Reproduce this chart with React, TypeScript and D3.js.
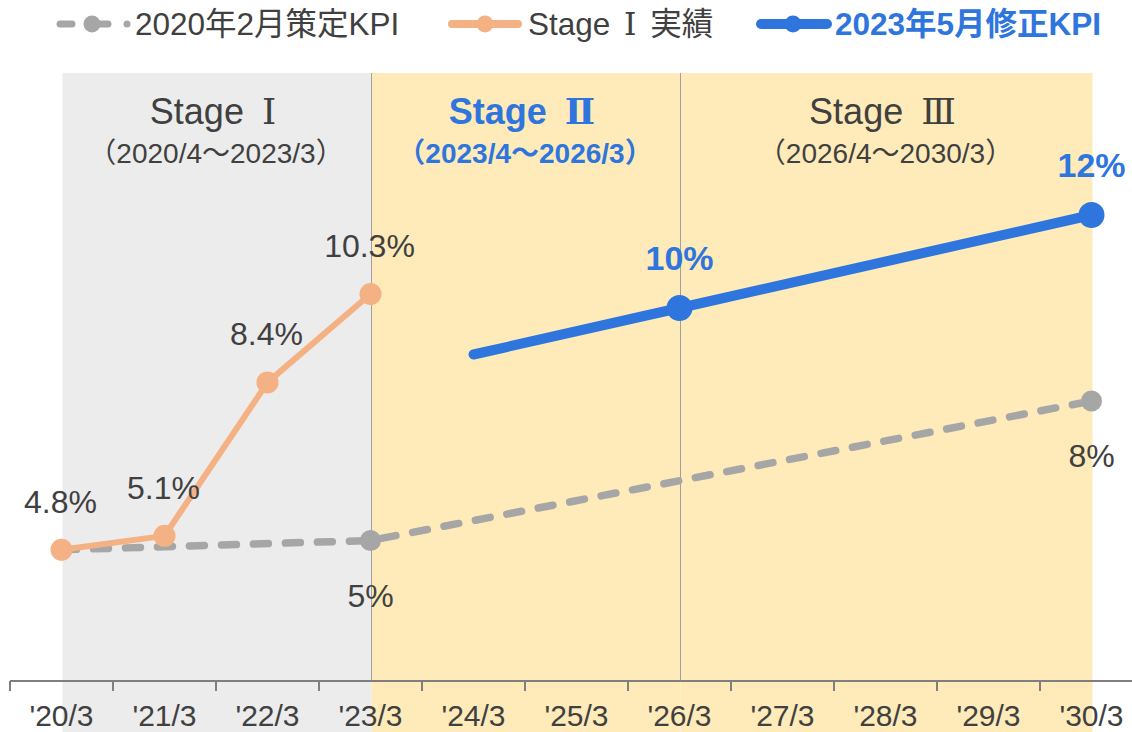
import React from "react";
import * as d3 from "d3";

const categories = ["'20/3", "'21/3", "'22/3", "'23/3", "'24/3", "'25/3", "'26/3", "'27/3", "'28/3", "'29/3", "'30/3"];
const kpi2020 = [4.8, null, null, 5, null, null, null, null, null, null, 8];
const kpi2020Labels = ["", "", "", "5%", "", "", "", "", "", "", "8%"];
const stage1Actual = [4.8, 5.1, 8.4, 10.3, null, null, null, null, null, null, null];
const stage1Labels = ["4.8%", "5.1%", "8.4%", "10.3%", "", "", "", "", "", "", ""];
const kpi2023 = [null, null, null, null, 9.0, null, 10, null, null, null, 12];
const kpi2023Labels = ["", "", "", "", "", "", "10%", "", "", "", "12%"];
const legendNames = ["2020年2月策定KPI", "Stage Ⅰ 実績", "2023年5月修正KPI"];
const stages = [
  { title: "Stage Ⅰ", period: "（2020/4～2023/3）", from: "'20/3", to: "'23/3", highlight: false, fill: "#ececec" },
  { title: "Stage Ⅱ", period: "（2023/4～2026/3）", from: "'23/3", to: "'26/3", highlight: true, fill: "#feebb9" },
  { title: "Stage Ⅲ", period: "（2026/4～2030/3）", from: "'26/3", to: "'30/3", highlight: false, fill: "#feebb9" },
];

const W = 1132;
const H = 732;
const FONT = "'Liberation Sans', Arial, 'Noto Sans CJK JP', sans-serif";
const ROMAN = "'DejaVu Serif', 'Noto Sans CJK JP', serif";
const TEXT = "#404040";
const GRAY = "#a6a6a6";
const ORANGE = "#f4b183";
const BLUE = "#2e75de";

type Pt = { i: number; v: number; label: string };

function pts(vals: (number | null)[], labels: string[]): Pt[] {
  const out: Pt[] = [];
  vals.forEach((v, i) => {
    if (v !== null) out.push({ i, v, label: labels[i] });
  });
  return out;
}

// render roman numerals with a serif face, like the reference
function rich(s: string, gap: number) {
  const parts = s.split(/([ⅠⅡⅢ])/);
  return parts.map((p, k) =>
    /[ⅠⅡⅢ]/.test(p) ? (
      <tspan key={k} fontFamily={ROMAN} dx={gap}>
        {p}
      </tspan>
    ) : (
      <tspan key={k} dx={k > 0 ? gap : 0}>{p}</tspan>
    )
  );
}

export default function App() {
  const band = d3.scaleBand<string>().domain(categories).range([10, 10 + 103 * categories.length]).padding(0);
  const cx = (c: string) => (band(c) as number) + band.bandwidth() / 2;
  const y = d3.scaleLinear().domain([2, 15]).range([680, 75.5]);
  const axisY = 681;
  const top = 73;

  const line = d3
    .line<Pt>()
    .x((d) => cx(categories[d.i]))
    .y((d) => y(d.v));

  const gPts = pts(kpi2020, kpi2020Labels);
  const oPts = pts(stage1Actual, stage1Labels);
  const bPts = pts(kpi2023, kpi2023Labels);

  return (
    <svg width={W} height={H} style={{ position: "absolute", left: 0, top: 0, background: "#fff" }} fontFamily={FONT}>
      {/* stage backgrounds */}
      {stages.map((s, k) => (
        <rect key={"bg" + k} x={cx(s.from) + 1} y={top} width={cx(s.to) - cx(s.from)} height={H - top} fill={s.fill} />
      ))}
      {/* separators */}
      {stages.slice(1).map((s, k) => (
        <line key={"sep" + k} x1={cx(s.from) + 1} x2={cx(s.from) + 1} y1={top} y2={axisY} stroke="#a0a0a0" strokeWidth={1} />
      ))}
      {/* stage titles */}
      {stages.map((s, k) => {
        const mx = (cx(s.from) + cx(s.to)) / 2;
        const col = s.highlight ? BLUE : TEXT;
        const fw = s.highlight ? "bold" : "normal";
        return (
          <g key={"st" + k} textAnchor="middle" fill={col} fontWeight={fw}>
            <text x={mx - 3} y={124} fontSize={36}>{rich(s.title, 8)}</text>
            <text x={mx} y={163} fontSize={28}>{s.period}</text>
          </g>
        );
      })}

      {/* axis */}
      <line x1={10} x2={W} y1={axisY} y2={axisY} stroke="#7f7f7f" strokeWidth={2} />
      {categories.map((c) => (
        <line key={"t" + c} x1={band(c) as number} x2={band(c) as number} y1={axisY} y2={axisY + 10} stroke="#7f7f7f" strokeWidth={2} />
      ))}
      {categories.map((c) => (
        <text key={"l" + c} x={cx(c)} y={726} fontSize={30} textAnchor="middle" fill={TEXT}>
          {c}
        </text>
      ))}

      {/* 2020 KPI dashed */}
      <path d={line(gPts) as string} fill="none" stroke={GRAY} strokeWidth={7.5} strokeDasharray="15 17" strokeLinecap="round" />
      {gPts.map((d) => (
        <circle key={"gm" + d.i} cx={cx(categories[d.i])} cy={y(d.v)} r={10.5} fill={GRAY} />
      ))}
      {gPts
        .filter((d) => d.label)
        .map((d) => (
          <text key={"gl" + d.i} x={cx(categories[d.i])} y={y(d.v) + 66} fontSize={32} textAnchor="middle" fill={TEXT}>
            {d.label}
          </text>
        ))}

      {/* Stage I actual */}
      <path d={line(oPts) as string} fill="none" stroke={ORANGE} strokeWidth={6} strokeLinejoin="round" />
      {oPts.map((d) => (
        <circle key={"om" + d.i} cx={cx(categories[d.i])} cy={y(d.v)} r={11} fill={ORANGE} />
      ))}
      {oPts.map((d) => (
        <text key={"ol" + d.i} x={cx(categories[d.i]) - 1} y={y(d.v) - 37} fontSize={32} textAnchor="middle" fill={TEXT}>
          {d.label}
        </text>
      ))}

      {/* 2023 KPI */}
      <path d={line(bPts) as string} fill="none" stroke={BLUE} strokeWidth={10} strokeLinecap="round" strokeLinejoin="round" />
      {bPts
        .filter((d) => d.label)
        .map((d) => (
          <circle key={"bm" + d.i} cx={cx(categories[d.i])} cy={y(d.v)} r={13} fill={BLUE} />
        ))}
      {bPts
        .filter((d) => d.label)
        .map((d) => (
          <text key={"bl" + d.i} x={cx(categories[d.i])} y={y(d.v) - 38} fontSize={34} fontWeight="bold" textAnchor="middle" fill={BLUE}>
            {d.label}
          </text>
        ))}

      {/* legend */}
      <g>
        <line x1={60} x2={72} y1={24} y2={24} stroke={GRAY} strokeWidth={7} strokeLinecap="round" />
        <line x1={92} x2={108} y1={24} y2={24} stroke={GRAY} strokeWidth={7} strokeLinecap="round" />
        <line x1={127} x2={127} y1={24} y2={24} stroke={GRAY} strokeWidth={7} strokeLinecap="round" />
        <circle cx={92} cy={24} r={8.5} fill={GRAY} />
        <text x={135} y={35} fontSize={31.5} fill={TEXT}>{legendNames[0]}</text>

        <line x1={452} x2={518} y1={24} y2={24} stroke={ORANGE} strokeWidth={8} strokeLinecap="round" />
        <circle cx={485} cy={24} r={8.5} fill={ORANGE} />
        <text x={528} y={35} fontSize={31.5} fill={TEXT}>{rich(legendNames[1], 5)}</text>

        <line x1={761} x2={827} y1={24} y2={24} stroke={BLUE} strokeWidth={10} strokeLinecap="round" />
        <circle cx={793} cy={24} r={8.5} fill={BLUE} />
        <text x={835} y={35} fontSize={31.5} fontWeight="bold" fill={BLUE}>{legendNames[2]}</text>
      </g>
    </svg>
  );
}
